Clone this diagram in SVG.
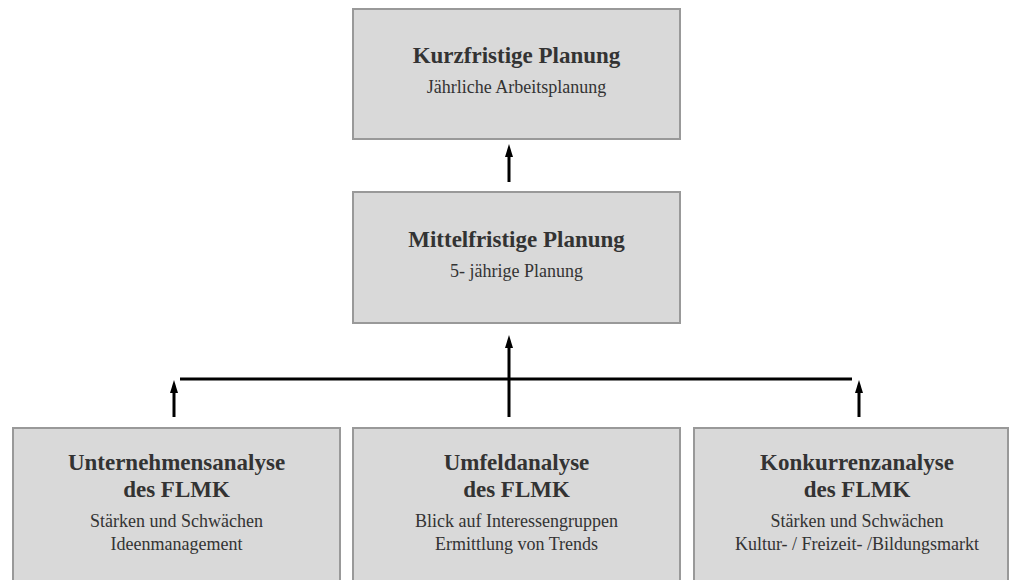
<svg xmlns="http://www.w3.org/2000/svg" width="1010" height="580" viewBox="0 0 1010 580">
<style>
.box{fill:#d9d9d9;stroke:#999999;stroke-width:2}
.t{font-family:"Liberation Serif","Times New Roman",serif;fill:#333333;text-anchor:middle}
.h{font-size:23px;font-weight:bold}
.s{font-size:18px}
.c{stroke:#000;stroke-width:3;fill:none}
</style>
<defs>
<marker id="ah" markerUnits="userSpaceOnUse" markerWidth="14" markerHeight="10" refX="1" refY="4" orient="auto">
<path d="M0,0 L13,4 L0,8 z" fill="#000"/>
</marker>
</defs>
<g id="kurzfristig">
<rect class="box" x="353" y="9" width="327" height="130"/>
<text class="t h" x="516.5" y="63">Kurzfristige Planung</text>
<text class="t s" x="516.5" y="93">Jährliche Arbeitsplanung</text>
</g>
<g id="mittelfristig">
<rect class="box" x="353" y="192" width="327" height="131"/>
<text class="t h" x="516.5" y="247">Mittelfristige Planung</text>
<text class="t s" x="516.5" y="277">5- jährige Planung</text>
</g>
<g id="unternehmensanalyse">
<rect class="box" x="13" y="428" width="327" height="160"/>
<text class="t h" x="176.5" y="470">Unternehmensanalyse</text>
<text class="t h" x="176.5" y="497">des FLMK</text>
<text class="t s" x="176.5" y="527">Stärken und Schwächen</text>
<text class="t s" x="176.5" y="550">Ideenmanagement</text>
</g>
<g id="umfeldanalyse">
<rect class="box" x="353" y="428" width="327" height="160"/>
<text class="t h" x="516.5" y="470">Umfeldanalyse</text>
<text class="t h" x="516.5" y="497">des FLMK</text>
<text class="t s" x="516.5" y="527">Blick auf Interessengruppen</text>
<text class="t s" x="516.5" y="550">Ermittlung von Trends</text>
</g>
<g id="konkurrenzanalyse">
<rect class="box" x="694" y="428" width="314" height="160"/>
<text class="t h" x="857" y="470">Konkurrenzanalyse</text>
<text class="t h" x="857" y="497">des FLMK</text>
<text class="t s" x="857" y="527">Stärken und Schwächen</text>
<text class="t s" x="857" y="550">Kultur- / Freizeit- /Bildungsmarkt</text>
</g>
<g id="connectors">
<line class="c" x1="509" y1="182" x2="509" y2="156" marker-end="url(#ah)"/>
<line class="c" x1="509" y1="417" x2="509" y2="347" marker-end="url(#ah)"/>
<line class="c" x1="180" y1="379" x2="852" y2="379"/>
<line class="c" x1="174" y1="417" x2="174" y2="392" marker-end="url(#ah)"/>
<line class="c" x1="859" y1="417" x2="859" y2="392" marker-end="url(#ah)"/>
</g>
</svg>
